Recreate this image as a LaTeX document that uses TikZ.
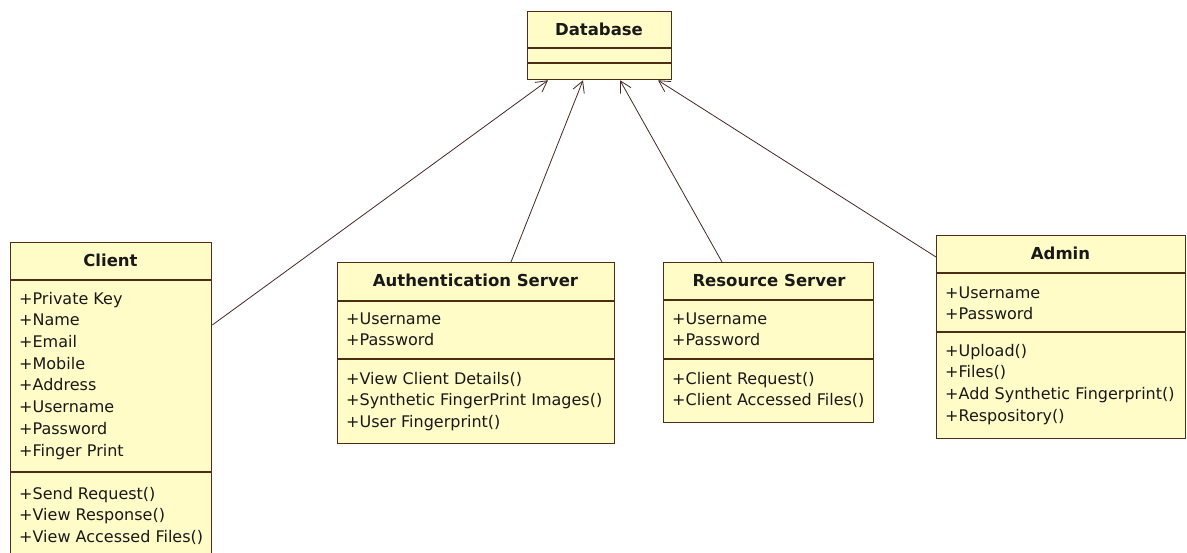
\documentclass[tikz,border=0pt]{standalone}
\usepackage{fontspec}
\setmainfont{DejaVu Sans}
\usetikzlibrary{arrows.meta}
\definecolor{classfill}{RGB}{255,252,200}
\definecolor{classline}{RGB}{78,44,22}
\definecolor{linkline}{RGB}{70,40,35}
\definecolor{ink}{RGB}{25,25,25}
\tikzset{
  classbox/.style={draw=classline, fill=classfill, line width=1.3pt, rectangle,
    inner sep=0pt, anchor=north west},
  divider/.style={draw=classline, line width=1.3pt},
  classname/.style={font=\fontsize{16.5}{20}\selectfont\bfseries, text=ink,
    inner sep=0pt, text height=11.5pt, text depth=0pt},
  members/.style={font=\fontsize{16}{21.7}\selectfont, text=ink, align=left,
    inner sep=0pt, anchor=north west},
  link/.style={draw=linkline, line width=0.8pt,
    -{Straight Barb[length=11pt,width=12pt,line width=0.8pt]}},
}
\begin{document}
\begin{tikzpicture}[x=1pt,y=-1pt]
\useasboundingbox[fill=white] (0,0) rectangle (1187,553);

% Database
\node[classbox, minimum width=144pt, minimum height=68pt] (db) at (527,11) {};
\draw[divider] ([yshift=-37pt]db.north west) -- ([yshift=-37pt]db.north east);
\draw[divider] ([yshift=-52pt]db.north west) -- ([yshift=-52pt]db.north east);
\node[classname] (dbname) at (599,30) {Database};

% Client
\node[classbox, minimum width=201pt, minimum height=330pt] (client) at (10,242) {};
\draw[divider] ([yshift=-38pt]client.north west) -- ([yshift=-38pt]client.north east);
\draw[divider] ([yshift=-230pt]client.north west) -- ([yshift=-230pt]client.north east);
\node[classname] (clientname) at (110.5,261) {Client};
\node[members] (clientattr) at (19,288.8) {\strut+Private Key\\+Name\\+Email\\+Mobile\\+Address\\+Username\\+Password\\+Finger Print};
\node[members] (clientops) at (19,483.8) {\strut+Send Request()\\+View Response()\\+View Accessed Files()};

% Authentication Server
\node[classbox, minimum width=277pt, minimum height=181pt] (auth) at (337,262) {};
\draw[divider] ([yshift=-39pt]auth.north west) -- ([yshift=-39pt]auth.north east);
\draw[divider] ([yshift=-97pt]auth.north west) -- ([yshift=-97pt]auth.north east);
\node[classname] (authname) at (475.5,281) {Authentication Server};
\node[members] (authattr) at (346,308.8) {\strut+Username\\+Password};
\node[members] (authops) at (346,368.8) {\strut+View Client Details()\\+Synthetic FingerPrint Images()\\+User Fingerprint()};

% Resource Server
\node[classbox, minimum width=210pt, minimum height=160pt] (res) at (663,262) {};
\draw[divider] ([yshift=-38pt]res.north west) -- ([yshift=-38pt]res.north east);
\draw[divider] ([yshift=-97pt]res.north west) -- ([yshift=-97pt]res.north east);
\node[classname] (resname) at (769,281) {Resource Server};
\node[members] (resattr) at (672,308.8) {\strut+Username\\+Password};
\node[members] (resops) at (672,368.8) {\strut+Client Request()\\+Client Accessed Files()};

% Admin
\node[classbox, minimum width=249pt, minimum height=203pt] (admin) at (936,235) {};
\draw[divider] ([yshift=-38pt]admin.north west) -- ([yshift=-38pt]admin.north east);
\draw[divider] ([yshift=-97pt]admin.north west) -- ([yshift=-97pt]admin.north east);
\node[classname] (adminname) at (1060.5,254) {Admin};
\node[members] (adminattr) at (945,282.8) {\strut+Username\\+Password};
\node[members] (adminops) at (945,340.8) {\strut+Upload()\\+Files()\\+Add Synthetic Fingerprint()\\+Respository()};

% Associations towards the database
\draw[link] ([yshift=-83pt]client.north east) -- ([xshift=21pt]db.south west);
\draw[link] ([xshift=174pt]auth.north west) -- ([xshift=56pt]db.south west);
\draw[link] ([xshift=59pt]res.north west) -- ([xshift=93pt]db.south west);
\draw[link] ([yshift=-22pt]admin.north west) -- ([xshift=131pt]db.south west);
\end{tikzpicture}
\end{document}
